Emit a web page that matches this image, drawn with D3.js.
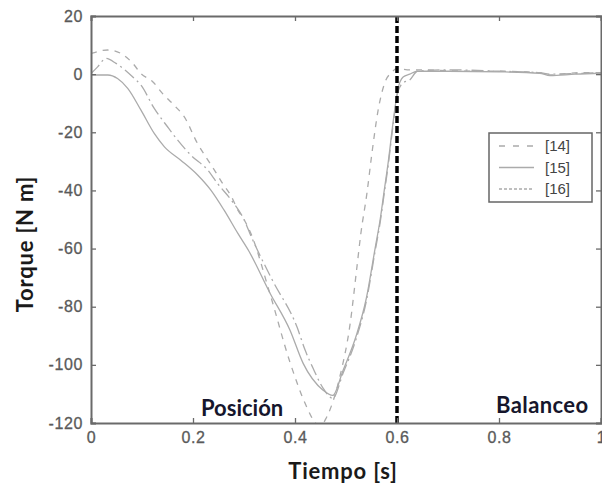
<!DOCTYPE html>
<html><head><meta charset="utf-8">
<script src="https://cdn.jsdelivr.net/npm/d3@7"></script>
<style>body{margin:0;background:#fff}svg{display:block}</style>
</head><body>
<svg id="c" width="602" height="488"></svg>
<script>
const xTicks = [0, 0.2, 0.4, 0.6, 0.8, 1];
const yTicks = [20, 0, -20, -40, -60, -80, -100, -120];
const seriesNames = ["[14]", "[15]", "[16]"];

const t14 = [0, 0.033, 0.059, 0.082, 0.098, 0.121, 0.14, 0.163, 0.183, 0.209, 0.225, 0.242, 0.258, 0.275, 0.288, 0.3, 0.314, 0.35, 0.39, 0.423, 0.44, 0.45, 0.462, 0.488, 0.508, 0.521, 0.529, 0.541, 0.551, 0.563, 0.576, 0.59, 0.6, 0.62, 0.65, 0.7, 0.75, 0.8, 0.85, 0.88, 0.9, 0.93, 0.96, 1.0];
const v14 = [7.1, 8.3, 7.1, 3.7, 0.2, -2.6, -6.6, -10.7, -14.7, -23.9, -28.4, -33, -37.6, -42, -46.8, -50, -55, -75, -99, -114.5, -120, -121, -118, -104, -86, -67, -55, -41, -27, -12.4, -3, 0.7, 2, 1.5, 1.5, 1.2, 1, 1, 0.8, 0.5, -0.3, 0.2, 0.5, 0.5];

const t15 = [0, 0.033, 0.052, 0.072, 0.098, 0.124, 0.144, 0.176, 0.209, 0.235, 0.261, 0.288, 0.31, 0.35, 0.39, 0.416, 0.455, 0.474, 0.494, 0.52, 0.54, 0.557, 0.567, 0.575, 0.583, 0.592, 0.602, 0.612, 0.625, 0.64, 0.7, 0.8, 0.88, 0.9, 0.95, 1.0];
const v15 = [-0.3, -0.3, -1.5, -4.9, -12.4, -20.4, -25, -29.6, -34.7, -39.9, -46.8, -54.8, -61, -75, -88, -99.5, -108.7, -110.5, -102, -90, -77, -60, -50, -40, -30, -17, -5, -1, 0, 1, 1, 0.8, 0.3, -0.5, 0, 0.3];

const t16 = [0, 0.013, 0.029, 0.049, 0.082, 0.098, 0.124, 0.15, 0.17, 0.196, 0.229, 0.248, 0.275, 0.3, 0.314, 0.356, 0.404, 0.42, 0.435, 0.455, 0.474, 0.494, 0.52, 0.54, 0.557, 0.567, 0.575, 0.583, 0.592, 0.602, 0.612, 0.625, 0.64, 0.7, 0.8, 0.88, 0.9, 0.95, 1.0];
const v16 = [0.2, 2.5, 5.4, 3.7, -1, -3.8, -11.8, -18.1, -22.7, -27.9, -33, -37.6, -43.3, -50, -55.8, -71, -87, -95, -101, -108, -111.5, -103, -91, -78, -61, -51, -41, -31, -18, -6, -3, -2, 1, 1.5, 1, 0.5, 0, 0.2, 0.5];

const marker = 0.6;

const svg = d3.select("#c");
const x = d3.scaleLinear().domain([0, 1]).range([91, 601]);
const y = d3.scaleLinear().domain([-120, 20]).range([423, 16]);

const axisColor = "#6a6a6a";
const labelColor = "#5a5a5a";

svg.append("clipPath").attr("id", "clip").append("rect")
  .attr("x", x(0)).attr("y", y(20)).attr("width", x(1) - x(0)).attr("height", y(-120) - y(20));

const dashes = ["6,6", null, "12,4,2,4"];
const data = [[t14, v14], [t15, v15], [t16, v16]];
const line = d3.line().x(d => x(d[0])).y(d => y(d[1])).curve(d3.curveMonotoneX);
const g = svg.append("g").attr("clip-path", "url(#clip)");
data.forEach((s, i) => {
  const pts = s[0].map((t, j) => [t, s[1][j]]);
  g.append("path").attr("d", line(pts)).attr("fill", "none")
    .attr("stroke", "#ababab").attr("stroke-width", 1.3)
    .attr("stroke-dasharray", dashes[i]);
});

svg.append("line").attr("x1", x(marker)).attr("x2", x(marker))
  .attr("y1", y(20)).attr("y2", y(-120))
  .attr("stroke", "#000").attr("stroke-width", 3.5).attr("stroke-dasharray", "7,3");

const fmt = d => String(d).replace("\u2212", "-");
const xa = svg.append("g").attr("transform", `translate(0,${y(-120)})`)
  .call(d3.axisBottom(x).tickValues(xTicks).tickSize(-5).tickPadding(9).tickFormat(fmt));
const ya = svg.append("g").attr("transform", `translate(${x(0)},0)`)
  .call(d3.axisLeft(y).tickValues(yTicks).tickSize(-5).tickPadding(8).tickFormat(fmt));
const xt = svg.append("g").attr("transform", `translate(0,${y(20)})`)
  .call(d3.axisTop(x).tickValues(xTicks).tickSize(-5).tickFormat(""));
const yr = svg.append("g").attr("transform", `translate(${x(1)},0)`)
  .call(d3.axisRight(y).tickValues(yTicks).tickSize(-5).tickFormat(""));
[xa, ya, xt, yr].forEach(a => {
  a.select(".domain").attr("stroke", axisColor).attr("stroke-width", 2);
  a.selectAll(".tick line").attr("stroke", axisColor).attr("stroke-width", 1.3);
  a.selectAll("text").attr("fill", labelColor).attr("font-family", "Liberation Sans, Arial, sans-serif")
    .attr("font-size", 16).attr("letter-spacing", 0.6).attr("stroke", labelColor).attr("stroke-width", 0.3);
});

const annFont = "Lato, sans-serif";
svg.append("text").attr("x", 201).attr("y", 416).text("Posición")
  .attr("font-family", annFont).attr("font-weight", "bold").attr("font-size", 22).attr("fill", "#16162c");
svg.append("text").attr("x", 496).attr("y", 413).text("Balanceo")
  .attr("font-family", annFont).attr("font-weight", "bold").attr("font-size", 22).attr("letter-spacing", 0.4).attr("fill", "#16162c");

svg.append("text").attr("x", 343).attr("y", 479).attr("text-anchor", "middle").text("Tiempo [s]")
  .attr("font-family", annFont).attr("font-weight", "bold").attr("font-size", 22).attr("letter-spacing", 0.8).attr("fill", "#1a1a1a");
svg.append("text").attr("transform", "translate(33,244) rotate(-90)").attr("text-anchor", "middle").text("Torque [N m]")
  .attr("font-family", annFont).attr("font-weight", "bold").attr("font-size", 22).attr("letter-spacing", 0.8).attr("fill", "#1a1a1a");

const lg = svg.append("g");
lg.append("rect").attr("x", 489).attr("y", 133).attr("width", 103).attr("height", 69)
  .attr("fill", "#fff").attr("stroke", "#666").attr("stroke-width", 1.5);
const legDash = ["6,8", null, "3,2"];
seriesNames.forEach((n, i) => {
  const yy = 146 + i * 21.5;
  lg.append("line").attr("x1", 499).attr("x2", 534).attr("y1", yy).attr("y2", yy)
    .attr("stroke", "#ababab").attr("stroke-width", 1.3).attr("stroke-dasharray", legDash[i]);
  lg.append("text").attr("x", 545).attr("y", yy + 5).text(n)
    .attr("font-family", "Liberation Sans, Arial, sans-serif").attr("font-size", 15).attr("fill", "#444");
});
</script>
</body></html>
